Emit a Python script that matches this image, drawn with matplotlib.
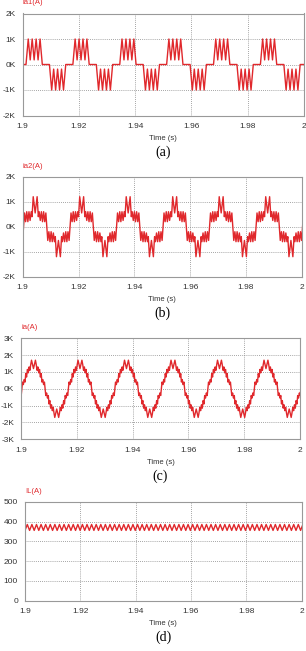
import numpy as np
import matplotlib
matplotlib.use("Agg")
import matplotlib.pyplot as plt
from matplotlib.ticker import FuncFormatter

# one half cycle of each waveform (time in ms from the
# rising zero crossing, value in A); the negative half is the mirror image
period_ms = 1000.0 / 60.0

ia1_t0 = 1.8999
ia1_ms = [0.0, 1.27, 2.07, 2.77, 3.47, 4.17, 4.87, 5.57, 6.27, 7.07, 8.33]
ia1_a = [0, 0, 1000, 180, 1000, 180, 1000, 180, 1000, 0, 0]

ia2_t0 = 1.9003
ia2_ms = [0.0, 0.35, 0.75, 1.15, 1.55, 1.95, 2.35, 2.75, 3.05, 3.47, 4.17,
          4.87, 5.3, 5.6, 6.0, 6.4, 6.8, 7.2, 7.6, 8.0, 8.33]
ia2_a = [0, 550, 200, 600, 200, 600, 250, 600, 400, 1200, 550,
         1200, 400, 600, 250, 600, 200, 600, 200, 550, 0]

ia_t0 = 1.9003
ia_ms = [0.0, 0.25, 0.55, 0.85, 1.15, 1.4, 1.7, 2.0, 2.3, 2.6, 2.9, 3.2, 3.47,
         4.17, 4.87, 5.15, 5.45, 5.75, 6.05, 6.35, 6.65, 6.95, 7.2, 7.5, 7.8,
         8.1, 8.33]
ia_a = [0, 400, 250, 550, 400, 900, 700, 1150, 950, 1300, 1100, 1450, 1700,
        1200, 1700, 1450, 1100, 1300, 950, 1150, 700, 900, 400, 550, 250,
        400, 0]

# load current ripple: one ripple cycle
il_t0 = 1.9
il_ripple_ms = [0.0, 0.83]
il_a = [355, 385]
il_period_ms = 1.66

panels = [
    ("ia1(A)", "(a)", [-2000, 2000], [-2000, -1000, 0, 1000, 2000]),
    ("ia2(A)", "(b)", [-2000, 2000], [-2000, -1000, 0, 1000, 2000]),
    ("ia(A)", "(c)", [-3000, 3000], [-3000, -2000, -1000, 0, 1000, 2000, 3000]),
    ("IL(A)", "(d)", [0, 500], [0, 100, 200, 300, 400, 500]),
]
xticks = [1.9, 1.92, 1.94, 1.96, 1.98, 2.0]
xlabels = ["1.9", "1.92", "1.94", "1.96", "1.98", "2"]

# axes boxes in pixels: left, right, top, bottom
boxes = [(22.7, 304, 13.5, 115.5), (22.7, 301.7, 176.7, 276.7),
         (21, 300, 338.3, 439.3), (25, 301.7, 501.7, 600.7)]


def full_wave(t0, half_ms, half_a, n=8):
    h = np.array(half_ms)
    v = np.array(half_a, dtype=float)
    one_t = np.concatenate([h, h + period_ms / 2])
    one_v = np.concatenate([v, -v])
    ts, vs = [], []
    for k in range(-1, n):
        ts.append(t0 + (one_t + k * period_ms) / 1000.0)
        vs.append(one_v)
    return np.concatenate(ts), np.concatenate(vs)


def ripple(t0, ms, vals, per, n=64):
    ts, vs = [], []
    for k in range(-1, n):
        ts.append(t0 + (np.array(ms) + k * per) / 1000.0)
        vs.append(np.array(vals, dtype=float))
    return np.concatenate(ts), np.concatenate(vs)


waves = [full_wave(ia1_t0, ia1_ms, ia1_a),
         full_wave(ia2_t0, ia2_ms, ia2_a),
         full_wave(ia_t0, ia_ms, ia_a),
         ripple(il_t0, il_ripple_ms, il_a, il_period_ms)]

W, H = 306, 651
fig = plt.figure(figsize=(W / 100, H / 100), dpi=100)
red = "#e0282c"
tick_col = "#333333"

for i, (title, cap, ylim, yt) in enumerate(panels):
    l, r, t, b = boxes[i]
    ax = fig.add_axes([l / W, 1 - b / H, (r - l) / W, (b - t) / H])
    tt, vv = waves[i]
    ax.plot(tt, vv, color=red, lw=1.0)
    ax.set_xlim(1.9, 2.0)
    ax.set_ylim(ylim)
    ax.set_xticks(xticks)
    ax.set_xticklabels(xlabels)
    ax.set_yticks(yt)
    if i < 3:
        ax.yaxis.set_major_formatter(FuncFormatter(lambda v, p: "%dK" % round(v / 1000)))
    ax.grid(True, color="#888888", ls=(0, (1, 1.5)), lw=0.6)
    for s in ax.spines.values():
        s.set_color("#999999")
        s.set_linewidth(0.8)
    ax.tick_params(length=0, labelsize=6, colors=tick_col)
    ax.tick_params(axis="x", pad=5.5)
    ax.tick_params(axis="y", pad=5)
    for lab in ax.get_xticklabels() + ax.get_yticklabels():
        lab.set_family("Liberation Sans")
    ax.text(0, 1.0 + 10.5 / (b - t), title, transform=ax.transAxes, color=red,
            fontsize=5.5, family="Liberation Sans", ha="left", va="center")
    ax.set_xlabel("Time (s)", fontsize=5.5, family="Liberation Sans",
                  color=tick_col, labelpad=3.5)
    fig.text(0.5 * (l + r) / W, 1 - (b + 37) / H, cap, fontsize=10,
             family="Liberation Serif", ha="center", va="center")

fig.savefig("out.png", dpi=100)
